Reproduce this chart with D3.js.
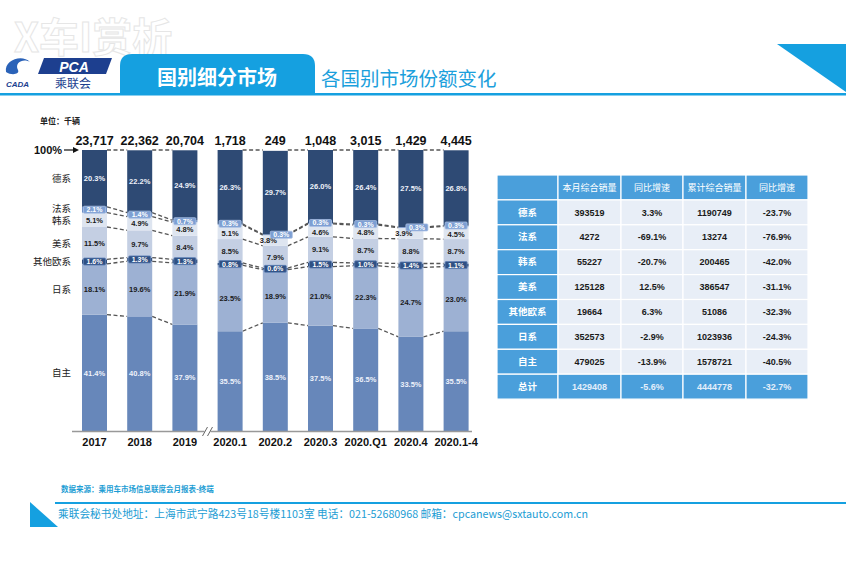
<!DOCTYPE html>
<html><head><meta charset="utf-8">
<script src="https://cdn.jsdelivr.net/npm/d3@7"></script>
<style>
html,body{margin:0;padding:0;background:#fff;}
svg{display:block;font-family:"Liberation Sans","Noto Sans CJK SC",sans-serif;}
.cjk{font-family:"Noto Sans CJK SC","Liberation Sans",sans-serif;}
</style></head>
<body><svg id="c" width="846" height="564"></svg>
<script>
// ---------- data ----------
const periods = ['2017','2018','2019','2020.1','2020.2','2020.3','2020.Q1','2020.4','2020.1-4'];
const totals = [23717,22362,20704,1718,249,1048,3015,1429,4445];
const seriesNames = ['自主','日系','其他欧系','美系','韩系','法系','德系']; // bottom -> top
const ziZhu   = [41.4,40.8,37.9,35.5,38.5,37.5,36.5,33.5,35.5];
const riXi    = [18.1,19.6,21.9,23.5,18.9,21.0,22.3,24.7,23.0];
const qiTaOu  = [1.6,1.3,1.3,0.8,0.6,1.5,1.0,1.4,1.1];
const meiXi   = [11.5,9.7,8.4,8.5,7.9,9.1,8.7,8.8,8.7];
const hanXi   = [5.1,4.9,4.8,5.1,3.8,4.6,4.8,3.9,4.5];
const faXi    = [2.1,1.4,0.7,0.3,0.3,0.3,0.3,0.3,0.3];
const deXi    = [20.3,22.2,24.9,26.3,29.7,26.0,26.4,27.5,26.8];
const seriesValues = [ziZhu,riXi,qiTaOu,meiXi,hanXi,faXi,deXi];

const tableHeaders = ['','本月综合销量','同比增速','累计综合销量','同比增速'];
const tableRows = ['德系','法系','韩系','美系','其他欧系','日系','自主','总计'];
const monthSales = [393519,4272,55227,125128,19664,352573,479025,1429408];
const monthYoY = ['3.3%','-69.1%','-20.7%','12.5%','6.3%','-2.9%','-13.9%','-5.6%'];
const cumSales = [1190749,13274,200465,386547,51086,1023936,1578721,4444778];
const cumYoY = ['-23.7%','-76.9%','-42.0%','-31.1%','-32.3%','-24.3%','-40.5%','-32.7%'];

// ---------- styles ----------
const fills = ['#6787ba','#9db1d3','#2f4e7e','#c4cfe3','#dee5f0','#6f90c6','#2e4a74'];
const labelColors = ['#eef2fa','#1a1a1a','#ffffff','#1a1a1a','#1a1a1a','#ffffff','#eef2fa'];
const boxed = [false,false,true,false,false,true,false];
const boxFill = {2:'#2f5083',5:'#7d9fd3'};
const boxStroke = {2:'#5d7fb5',5:'#a9c0e4'};
// label nudges (layout only): series index -> period index -> [dx, dy]
const labelNudge = {
  4:{3:[0,1],4:[-7,0],5:[0,1.5],6:[0,1],7:[-7,0],8:[0,1.5]},
  5:{3:[0,-0.5],4:[6,0],5:[0,-0.5],6:[0,-0.5],7:[6,0],8:[0,-0.5]}
};
const BLUE = '#15a0e0';

const svg = d3.select('#c');

// ---------- header ----------
svg.append('text').attr('class','cjk').attr('x',14).attr('y',52)
  .attr('font-size',40).attr('font-weight','bold').attr('fill','#ffffff')
  .attr('stroke','#e2e2e2').attr('stroke-width',1).attr('opacity',0.85)
  .text('X车I赏析');
svg.append('path')
  .attr('d','M120,94 L120,66 Q120,54 132,54 L303,54 Q315,54 315,66 L315,94 Z')
  .attr('fill',BLUE);
svg.append('text').attr('class','cjk').attr('x',217).attr('y',85)
  .attr('text-anchor','middle').attr('font-size',20).attr('font-weight','bold')
  .attr('fill','#fff').text('国别细分市场');
svg.append('text').attr('class','cjk').attr('x',321).attr('y',86)
  .attr('font-size',19.5).attr('fill','#1ba0dc').text('各国别市场份额变化');
svg.append('rect').attr('x',0).attr('y',93).attr('width',846).attr('height',2.5).attr('fill',BLUE);
svg.append('path').attr('d','M777,44 L846,44 L846,92 Z').attr('fill',BLUE);
// logo
svg.append('path').attr('d','M44,58 L112,58 L106,74 L38,74 Z').attr('fill','#1d3f8f');
svg.append('text').attr('x',74).attr('y',72).attr('text-anchor','middle')
  .attr('font-size',14).attr('font-style','italic').attr('font-weight','bold')
  .attr('fill','#fff').text('PCA');
svg.append('text').attr('class','cjk').attr('x',73).attr('y',88).attr('text-anchor','middle')
  .attr('font-size',12).attr('fill','#1d3f8f').text('乘联会');
svg.append('path').attr('d','M6,72 C4,60 22,54 30,62 C24,58 14,62 18,70 C20,74 12,76 6,72 Z').attr('fill','#2a62b8');
svg.append('text').attr('x',6).attr('y',87).attr('font-size',8).attr('font-style','italic')
  .attr('font-weight','bold').attr('fill','#1d3f8f').text('CADA');

// ---------- chart ----------
const x = d3.scaleBand().domain(periods).range([71.9,478.7]).paddingInner(0.447).paddingOuter(0.2235);
const y = d3.scaleLinear().domain([0,100]).range([431,150]);
const bw = x.bandwidth();

const stackData = periods.map((p,i)=>{
  let acc=0; const segs=[];
  seriesValues.forEach((arr,k)=>{ segs.push({k, i, y0:acc, y1:acc+arr[i], v:arr[i], p}); acc+=arr[i]; });
  return segs;
});

svg.append('text').attr('class','cjk').attr('x',40).attr('y',124)
  .attr('font-size',8).attr('font-weight','bold').attr('fill','#222').text('单位：千辆');

// connectors (none across the axis break between 2019 and 2020.1)
const gConn = svg.append('g');
for(let i=0;i<periods.length-1;i++){
  if(i===2) continue;
  const a = stackData[i], b = stackData[i+1];
  const bounds = [];
  for(let k=0;k<seriesNames.length-1;k++) bounds.push([a[k].y1, b[k].y1]);
  bounds.push([100,100]);
  bounds.forEach(([ya,yb])=>{
    gConn.append('line')
      .attr('x1',x(periods[i])+bw).attr('x2',x(periods[i+1]))
      .attr('y1',y(Math.min(ya,100))).attr('y2',y(Math.min(yb,100)))
      .attr('stroke','#555').attr('stroke-width',1.3).attr('stroke-dasharray','4,2.5');
  });
}

// bars
const gBars = svg.append('g');
stackData.forEach(segs=>{
  segs.forEach(s=>{
    gBars.append('rect').attr('x',x(s.p)).attr('width',bw)
      .attr('y',y(Math.min(s.y1,100))).attr('height',Math.max(0,y(s.y0)-y(Math.min(s.y1,100))))
      .attr('fill',fills[s.k]);
  });
});

// labels in bars
const fmtPct = v=>v.toFixed(1)+'%';
const gLab = svg.append('g');
stackData.forEach(segs=>{
  segs.forEach(s=>{
    const nd = (labelNudge[s.k] && labelNudge[s.k][s.i]) || [0,0];
    const cy = y((s.y0+Math.min(s.y1,100))/2) + nd[1];
    const cx = x(s.p)+bw/2 + nd[0];
    if(boxed[s.k]){
      gLab.append('rect').attr('x',cx-11).attr('y',cy-3.5).attr('width',22).attr('height',7)
        .attr('rx',1).attr('fill',boxFill[s.k]).attr('stroke',boxStroke[s.k]).attr('stroke-width',0.8);
      gLab.append('text').attr('x',cx).attr('y',cy+2.5).attr('text-anchor','middle')
        .attr('font-size',7).attr('font-weight','bold').attr('fill',labelColors[s.k]).text(fmtPct(s.v));
    } else {
      gLab.append('text').attr('x',cx).attr('y',cy+2.7).attr('text-anchor','middle')
        .attr('font-size',7.5).attr('font-weight','bold').attr('fill',labelColors[s.k]).text(fmtPct(s.v));
    }
  });
});

// totals
svg.append('g').selectAll('text').data(periods).join('text')
  .attr('x',d=>x(d)+bw/2).attr('y',145).attr('text-anchor','middle')
  .attr('font-size',12.5).attr('font-weight','bold').attr('fill','#111')
  .text((d,i)=>d3.format(',')(totals[i]));

// 100% arrow
svg.append('text').attr('x',34).attr('y',154).attr('font-size',11).attr('font-weight','bold')
  .attr('fill','#111').text('100%');
svg.append('line').attr('x1',64).attr('x2',76).attr('y1',150).attr('y2',150).attr('stroke','#111').attr('stroke-width',1.2);
svg.append('path').attr('d','M79,150 L73,147 L73,153 Z').attr('fill','#111');

// left series labels at 2017 segment centers
const leftNudge = {5:-1.5, 4:1};
svg.append('g').selectAll('text').data(stackData[0]).join('text')
  .attr('class','cjk').attr('x',71).attr('y',d=>y((d.y0+d.y1)/2)+3.5+(leftNudge[d.k]||0))
  .attr('text-anchor','end').attr('font-size',9.5).attr('fill','#222')
  .text(d=>seriesNames[d.k]);

// x axis
const xAxis = d3.axisBottom(x).tickSize(0).tickPadding(7);
const gx = svg.append('g').attr('transform','translate(0,431)').call(xAxis);
gx.select('.domain').remove();
gx.selectAll('text').attr('font-size',11).attr('font-weight','bold').attr('fill','#111')
  .attr('font-family','"Liberation Sans",sans-serif');
svg.append('line').attr('x1',72).attr('x2',472).attr('y1',431.5).attr('y2',431.5).attr('stroke','#999').attr('stroke-width',1.5);
const bx = (x('2019')+bw + x('2020.1'))/2;
svg.append('rect').attr('x',bx-3).attr('y',429).attr('width',6).attr('height',5).attr('fill','#fff');
[-2.5,2.5].forEach(o=>svg.append('line').attr('x1',bx+o-2.5).attr('x2',bx+o+2.5).attr('y1',436).attr('y2',427)
  .attr('stroke','#666').attr('stroke-width',1));

// ---------- table ----------
const tx = [497,558,621,683,746,808];
const ty0 = 175, rh = 24.9;
const gT = svg.append('g');
const HBLUE = '#4a9fdb';
const cellText = (r,c)=>{
  if(c===0) return tableRows[r];
  if(c===1) return String(monthSales[r]);
  if(c===2) return monthYoY[r];
  if(c===3) return String(cumSales[r]);
  return cumYoY[r];
};
for(let c=0;c<5;c++){
  gT.append('rect').attr('x',tx[c]).attr('y',ty0).attr('width',tx[c+1]-tx[c]).attr('height',rh)
    .attr('fill',HBLUE).attr('stroke','#fff').attr('stroke-width',1.2);
  gT.append('text').attr('class','cjk').attr('x',(tx[c]+tx[c+1])/2).attr('y',ty0+rh/2+3.2)
    .attr('text-anchor','middle').attr('font-size',9).attr('fill','#fff').text(tableHeaders[c]);
}
tableRows.forEach((rn,r)=>{
  const yy = ty0+rh*(r+1);
  const isTotal = r===tableRows.length-1;
  for(let c=0;c<5;c++){
    const blueCell = c===0 || isTotal;
    gT.append('rect').attr('x',tx[c]).attr('y',yy).attr('width',tx[c+1]-tx[c]).attr('height',rh)
      .attr('fill',blueCell?HBLUE:'#e8eef7').attr('stroke','#fff').attr('stroke-width',1.2);
    gT.append('text').attr('class',c===0?'cjk':null).attr('x',(tx[c]+tx[c+1])/2).attr('y',yy+rh/2+3.2)
      .attr('text-anchor','middle').attr('font-size',c===0?9.5:9).attr('font-weight','bold')
      .attr('fill',blueCell?(c===0?'#fff':'#e3eefa'):'#1a1a1a').text(cellText(r,c));
  }
});

// ---------- footer ----------
svg.append('text').attr('class','cjk').attr('x',61).attr('y',492).attr('font-size',7.5)
  .attr('font-weight','bold').attr('fill','#1c9dd4').text('数据来源：乘用车市场信息联席会月报表-终端');
svg.append('rect').attr('x',55).attr('y',502).attr('width',791).attr('height',2).attr('fill',BLUE);
svg.append('path').attr('d','M30,502 L58,527 L30,527 Z').attr('fill',BLUE);
svg.append('text').attr('class','cjk').attr('x',58).attr('y',518).attr('font-size',11)
  .attr('fill','#1c9dd4').attr('textLength',530).attr('lengthAdjust','spacingAndGlyphs')
  .text('乘联会秘书处地址：上海市武宁路423号18号楼1103室  电话：021-52680968   邮箱：cpcanews@sxtauto.com.cn');
</script></body></html>
